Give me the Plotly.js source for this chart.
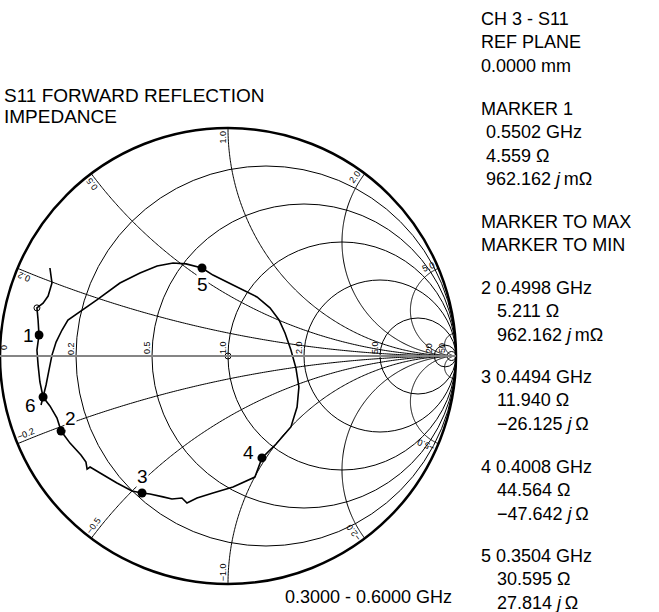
<!DOCTYPE html>
<html><head><meta charset="utf-8">
<script src="https://cdn.plot.ly/plotly-3.0.1.min.js"></script>
<style>html,body{margin:0;padding:0;background:#fff}</style>
</head><body><div id="chart" style="width:659px;height:612px"></div>
<script>
// ---- DATA (reflection coefficient Gamma of the S11 trace) ----
const traceGammaRe = [-0.820,-0.811,-0.798,-0.785,-0.772,-0.754,-0.728,-0.702,-0.575,-0.474,-0.386,-0.311,-0.241,-0.184,-0.114,-0.066,0.022,0.127,0.184,0.224,0.250,0.276,0.298,0.311,0.303,0.276,0.211,0.149,0.118,0.022,-0.066,-0.136,-0.180,-0.202,-0.246,-0.285,-0.342,-0.377,-0.421,-0.487,-0.561,-0.605,-0.618,-0.623,-0.645,-0.693,-0.732,-0.750,-0.781,-0.811,-0.825,-0.833,-0.838,-0.829,-0.833,-0.838,-0.811,-0.789,-0.772,-0.781];
const traceGammaIm = [-0.215,-0.180,-0.127,-0.061,0.004,0.061,0.114,0.158,0.246,0.320,0.364,0.395,0.408,0.404,0.386,0.355,0.311,0.259,0.211,0.158,0.101,0.026,-0.053,-0.136,-0.224,-0.311,-0.386,-0.447,-0.531,-0.575,-0.601,-0.623,-0.645,-0.623,-0.627,-0.618,-0.605,-0.601,-0.592,-0.557,-0.513,-0.487,-0.496,-0.465,-0.434,-0.382,-0.329,-0.272,-0.219,-0.180,-0.114,-0.039,0.026,0.092,0.158,0.211,0.232,0.263,0.320,0.386];
const markerNames = ['1','2','3','4','5','6'];
const markerGammaRe = [-0.829,-0.732,-0.377,0.149,-0.114,-0.811];
const markerGammaIm = [0.092,-0.329,-0.601,-0.447,0.386,-0.180];
const endGammaRe = [-0.838];
const endGammaIm = [0.211];
const resistanceTicks = [0.2,0.5,1,2,5,20,50];
const resistanceLabels = ['0.2','0.5','1.0','2.0','5.0','20','50'];
const reactanceTicks = [0.2,0.5,1,2,5,20];
const reactanceLabelVals = [0.2,0.5,1,2,5];
const reactanceLabels = ['0.2','0.5','1.0','2.0','5.0'];
const titleLines = ['S11 FORWARD REFLECTION','IMPEDANCE'];
const sweepText = '0.3000 - 0.6000 GHz';
const panelText = [
  ['CH 3 - S11','REF PLANE','0.0000 mm'],
  ['MARKER 1','0.5502 GHz','4.559 Ω','962.162 <i>j</i>\u2009mΩ'],
  ['MARKER TO MAX','MARKER TO MIN'],
  ['2 0.4998 GHz','5.211 Ω','962.162 <i>j</i>\u2009mΩ'],
  ['3 0.4494 GHz','11.940 Ω','\u221226.125 <i>j</i>\u2009Ω'],
  ['4 0.4008 GHz','44.564 Ω','\u221247.642 <i>j</i>\u2009Ω'],
  ['5 0.3504 GHz','30.595 Ω','27.814 <i>j</i>\u2009Ω']
];

// ---- LAYOUT GEOMETRY ----
const W = 659, H = 612;
const CX = 228, CY = 356, RAD = 228;
const FONT = '"Liberation Sans", Arial, sans-serif';
function gToZ(re, im){ const d=(1-re)*(1-re)+im*im; return [(1-re*re-im*im)/d, 2*im/d]; }
function toZ(reArr, imArr){ const r=[], i=[]; for(let k=0;k<reArr.length;k++){ const z=gToZ(reArr[k],imArr[k]); r.push(z[0]); i.push(z[1]); } return {real:r, imag:i}; }
function px2paper(x,y){ return {x:x/W, y:1-y/H}; }
function g2px(gr,gi){ return [CX+gr*RAD, CY-gi*RAD]; }

const curveZ = toZ(traceGammaRe, traceGammaIm);
const markZ = toZ(markerGammaRe, markerGammaIm);
const endZ = toZ(endGammaRe, endGammaIm);

// full constant-reactance grid arcs (edge of chart to the open-circuit point)
const traces = [];
reactanceTicks.forEach(x=>{
  [1,-1].forEach(s=>{
    const xs = x*s, rho = 1/x;
    const d = x*x+1;
    const er = (x*x-1)/d, ei = 2*xs/d;
    const phiE = Math.atan2(ei - 1/xs, er - 1);
    const phiEnd = s>0 ? 1.5*Math.PI : -1.5*Math.PI;
    let a0 = phiE;
    if (s>0 && a0 < 0) a0 += 2*Math.PI;
    if (s<0 && a0 > 0) a0 -= 2*Math.PI;
    const stop = 0.002/rho;
    const a1 = s>0 ? phiEnd - stop : phiEnd + stop;
    const gr=[], gi=[];
    const N = 240;
    for(let k=0;k<=N;k++){
      const a = a0 + (a1-a0)*k/N;
      gr.push(1 + rho*Math.cos(a)); gi.push(1/xs + rho*Math.sin(a));
    }
    gr[0]=er; gi[0]=ei;
    const z = toZ(gr, gi);
    z.real = z.real.map(v=>Math.max(v,0));
    traces.push({type:'scattersmith', real:z.real, imag:z.imag, mode:'lines', line:{color:'black', width:1}, hoverinfo:'skip'});
  });
});

traces.push(
  {type:'scattersmith', real:curveZ.real, imag:curveZ.imag, mode:'lines', line:{color:'black', width:1.6}, hoverinfo:'skip'},
  {type:'scattersmith', real:endZ.real, imag:endZ.imag, mode:'markers', marker:{symbol:'circle-open', size:6, color:'black', line:{width:1}}, hoverinfo:'skip'},
  {type:'scattersmith', real:[1], imag:[0], mode:'markers', marker:{symbol:'circle-open', size:6, color:'black', line:{width:1}}, hoverinfo:'skip'},
  {type:'scattersmith', real:markZ.real, imag:markZ.imag, mode:'markers', marker:{symbol:'circle', size:9, color:'black'}, hoverinfo:'skip'}
);

const ann = [];
// real-axis labels
ann.push(Object.assign(px2paper(4, CY-8), {text:'0', textangle:-90}));
resistanceTicks.forEach((r,k)=>{
  const gx = (r-1)/(r+1);
  const p = g2px(gx,0);
  ann.push(Object.assign(px2paper(p[0]-5, CY-8), {text:resistanceLabels[k], textangle:-90}));
});
// reactance labels
reactanceLabelVals.forEach((x,k)=>{
  [1,-1].forEach(s=>{
    const d = x*x+1;
    const gr = (x*x-1)/d, gi = 2*x*s/d;
    const th = Math.atan2(gi, gr);
    const txt = (s<0?'\u2212':'') + reactanceLabels[k];
    const len = txt.length*4.6;
    const rc = RAD - 2 - len/2;
    const off = 5.5;
    const dir = s>0 ? [-Math.sin(th), Math.cos(th)] : [Math.sin(th), -Math.cos(th)];
    const X = rc*Math.cos(th) + off*dir[0], Y = rc*Math.sin(th) + off*dir[1];
    const thd = th*180/Math.PI;
    const ang = s>0 ? -thd : -(thd+180);
    ann.push(Object.assign(px2paper(CX+X, CY-Y), {text:txt, textangle:ang}));
  });
});
ann.forEach(a=>{ Object.assign(a,{xref:'paper', yref:'paper', showarrow:false, xanchor:'center', yanchor:'middle', font:{family:FONT, size:9, color:'black'}}); });

// marker labels
const labelShift = [[-10,0],[9,-13],[0,-17],[-13,-5],[0,17],[-13,8]];
markerNames.forEach((nm,k)=>{
  const p = g2px(markerGammaRe[k], markerGammaIm[k]);
  const q = px2paper(p[0], p[1]);
  ann.push({xref:'paper', yref:'paper', x:q.x, y:q.y, text:nm, showarrow:false, xanchor:'center', yanchor:'middle',
    xshift:labelShift[k][0], yshift:-labelShift[k][1], bgcolor:'white', borderpad:0, font:{family:FONT, size:19, color:'black'}});
});

// title
const titleY = [95, 117];
titleLines.forEach((t,k)=>{
  const q = px2paper(2, titleY[k]);
  ann.push({xref:'paper', yref:'paper', x:q.x, y:q.y, text:t, showarrow:false, xanchor:'left', yanchor:'middle', font:{family:FONT, size:19, color:'black'}});
});
// sweep range
{ const q = px2paper(283, 597);
  ann.push({xref:'paper', yref:'paper', x:q.x, y:q.y, text:sweepText, showarrow:false, xanchor:'left', yanchor:'middle', font:{family:FONT, size:18, color:'black'}}); }
// right panel
const blockY = [19,109,222,288,377,467,556];
const indent = [0,5,0,16,16,16,16];
const step = 23.3;
panelText.forEach((blk,b)=>{
  blk.forEach((t,i)=>{
    const q = px2paper(479 + (i>0?indent[b]:0), blockY[b] + i*step);
    ann.push({xref:'paper', yref:'paper', x:q.x, y:q.y, text:t, showarrow:false, xanchor:'left', yanchor:'middle', font:{family:FONT, size:18, color:'black'}});
  });
});

const layout = {
  width:W, height:H, margin:{l:0,r:0,t:0,b:0,pad:0},
  paper_bgcolor:'white', showlegend:false, font:{family:FONT, color:'black'},
  smith:{
    domain:{x:[(CX-RAD)/W, (CX+RAD)/W], y:[1-(CY+RAD)/H, 1-(CY-RAD)/H]},
    bgcolor:'white',
    realaxis:{tickvals:resistanceTicks, showticklabels:false, ticks:'', showgrid:true, gridcolor:'black', gridwidth:1, showline:true, linecolor:'#858585', linewidth:2},
    imaginaryaxis:{tickvals:reactanceTicks, showticklabels:false, ticks:'', showgrid:false, showline:true, linecolor:'black', linewidth:2.5}
  },
  annotations:ann
};
Plotly.newPlot('chart', traces, layout, {staticPlot:true, displayModeBar:false});
</script></body></html>
